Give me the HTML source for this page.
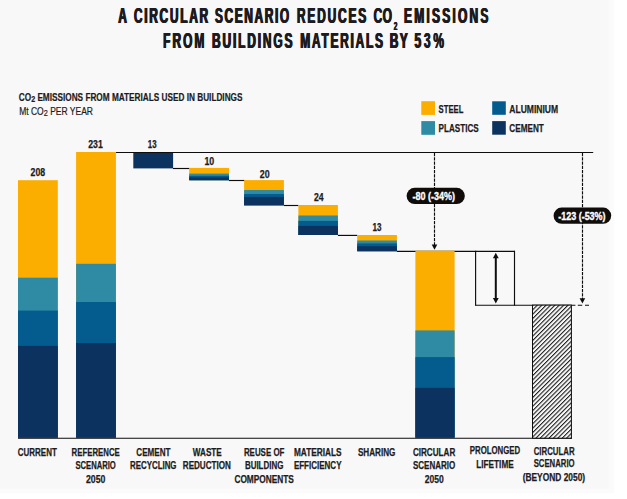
<!DOCTYPE html>
<html><head><meta charset="utf-8"><title>Circular scenario CO2 emissions</title>
<style>
html,body{margin:0;padding:0;background:#fff;}
body{width:627px;height:499px;overflow:hidden;position:relative;}
svg{display:block;position:absolute;left:0;top:0;}
text{font-family:"Liberation Sans",sans-serif;}
</style></head><body>
<svg width="627" height="499" viewBox="0 0 627 499">
<defs>
<pattern id="hatch" width="3.1" height="3.1" patternUnits="userSpaceOnUse" patternTransform="rotate(-45)">
<rect width="3.1" height="3.1" fill="#f8f8f8"/><rect width="3.1" height="1.08" fill="#1c1c1c"/>
</pattern>
<linearGradient id="fadeb" x1="0" y1="0" x2="0" y2="1"><stop offset="0" stop-color="#f8f8f8"/><stop offset="1" stop-color="#fff"/></linearGradient>
<linearGradient id="fader" x1="0" y1="0" x2="1" y2="0"><stop offset="0" stop-color="#f8f8f8"/><stop offset="1" stop-color="#fff"/></linearGradient>
</defs>
<rect x="0" y="0" width="627" height="499" fill="#fff"/>
<rect x="0" y="0" width="614.3" height="493.3" fill="#fbfbfb"/>
<rect x="0" y="0" width="608.5" height="488.5" fill="#f8f8f8"/>
<text transform="translate(117.85,23.00) scale(0.545,1)" font-size="22.0" font-weight="bold" fill="#1d1b20" >A</text>
<text transform="translate(118.30,23.00) scale(0.545,1)" font-size="22.0" font-weight="bold" fill="#1d1b20" >A</text>
<text transform="translate(118.75,23.00) scale(0.545,1)" font-size="22.0" font-weight="bold" fill="#1d1b20" >A</text>
<text transform="translate(133.45,23.00) scale(0.545,1)" font-size="22.0" font-weight="bold" fill="#1d1b20" textLength="136.33" lengthAdjust="spacing">CIRCULAR</text>
<text transform="translate(133.90,23.00) scale(0.545,1)" font-size="22.0" font-weight="bold" fill="#1d1b20" textLength="136.33" lengthAdjust="spacing">CIRCULAR</text>
<text transform="translate(134.35,23.00) scale(0.545,1)" font-size="22.0" font-weight="bold" fill="#1d1b20" textLength="136.33" lengthAdjust="spacing">CIRCULAR</text>
<text transform="translate(214.45,23.00) scale(0.545,1)" font-size="22.0" font-weight="bold" fill="#1d1b20" textLength="136.33" lengthAdjust="spacing">SCENARIO</text>
<text transform="translate(214.90,23.00) scale(0.545,1)" font-size="22.0" font-weight="bold" fill="#1d1b20" textLength="136.33" lengthAdjust="spacing">SCENARIO</text>
<text transform="translate(215.35,23.00) scale(0.545,1)" font-size="22.0" font-weight="bold" fill="#1d1b20" textLength="136.33" lengthAdjust="spacing">SCENARIO</text>
<text transform="translate(296.45,23.00) scale(0.545,1)" font-size="22.0" font-weight="bold" fill="#1d1b20" textLength="127.34" lengthAdjust="spacing">REDUCES</text>
<text transform="translate(296.90,23.00) scale(0.545,1)" font-size="22.0" font-weight="bold" fill="#1d1b20" textLength="127.34" lengthAdjust="spacing">REDUCES</text>
<text transform="translate(297.35,23.00) scale(0.545,1)" font-size="22.0" font-weight="bold" fill="#1d1b20" textLength="127.34" lengthAdjust="spacing">REDUCES</text>
<text transform="translate(373.15,23.00) scale(0.545,1)" font-size="22.0" font-weight="bold" fill="#1d1b20" textLength="33.76" lengthAdjust="spacing">CO</text>
<text transform="translate(373.60,23.00) scale(0.545,1)" font-size="22.0" font-weight="bold" fill="#1d1b20" textLength="33.76" lengthAdjust="spacing">CO</text>
<text transform="translate(374.05,23.00) scale(0.545,1)" font-size="22.0" font-weight="bold" fill="#1d1b20" textLength="33.76" lengthAdjust="spacing">CO</text>
<text transform="translate(403.55,23.00) scale(0.545,1)" font-size="22.0" font-weight="bold" fill="#1d1b20" textLength="154.86" lengthAdjust="spacing">EMISSIONS</text>
<text transform="translate(404.00,23.00) scale(0.545,1)" font-size="22.0" font-weight="bold" fill="#1d1b20" textLength="154.86" lengthAdjust="spacing">EMISSIONS</text>
<text transform="translate(404.45,23.00) scale(0.545,1)" font-size="22.0" font-weight="bold" fill="#1d1b20" textLength="154.86" lengthAdjust="spacing">EMISSIONS</text>
<text transform="translate(393.40,30.40) scale(0.62,1)" font-size="10.5" font-weight="bold" fill="#1d1b20" >2</text>
<text transform="translate(393.70,30.40) scale(0.62,1)" font-size="10.5" font-weight="bold" fill="#1d1b20" >2</text>
<text transform="translate(394.00,30.40) scale(0.62,1)" font-size="10.5" font-weight="bold" fill="#1d1b20" >2</text>
<text transform="translate(162.65,48.00) scale(0.545,1)" font-size="22.0" font-weight="bold" fill="#1d1b20" textLength="75.78" lengthAdjust="spacing">FROM</text>
<text transform="translate(163.10,48.00) scale(0.545,1)" font-size="22.0" font-weight="bold" fill="#1d1b20" textLength="75.78" lengthAdjust="spacing">FROM</text>
<text transform="translate(163.55,48.00) scale(0.545,1)" font-size="22.0" font-weight="bold" fill="#1d1b20" textLength="75.78" lengthAdjust="spacing">FROM</text>
<text transform="translate(211.55,48.00) scale(0.545,1)" font-size="22.0" font-weight="bold" fill="#1d1b20" textLength="147.71" lengthAdjust="spacing">BUILDINGS</text>
<text transform="translate(212.00,48.00) scale(0.545,1)" font-size="22.0" font-weight="bold" fill="#1d1b20" textLength="147.71" lengthAdjust="spacing">BUILDINGS</text>
<text transform="translate(212.45,48.00) scale(0.545,1)" font-size="22.0" font-weight="bold" fill="#1d1b20" textLength="147.71" lengthAdjust="spacing">BUILDINGS</text>
<text transform="translate(299.75,48.00) scale(0.545,1)" font-size="22.0" font-weight="bold" fill="#1d1b20" textLength="151.93" lengthAdjust="spacing">MATERIALS</text>
<text transform="translate(300.20,48.00) scale(0.545,1)" font-size="22.0" font-weight="bold" fill="#1d1b20" textLength="151.93" lengthAdjust="spacing">MATERIALS</text>
<text transform="translate(300.65,48.00) scale(0.545,1)" font-size="22.0" font-weight="bold" fill="#1d1b20" textLength="151.93" lengthAdjust="spacing">MATERIALS</text>
<text transform="translate(389.25,48.00) scale(0.545,1)" font-size="22.0" font-weight="bold" fill="#1d1b20" textLength="33.21" lengthAdjust="spacing">BY</text>
<text transform="translate(389.70,48.00) scale(0.545,1)" font-size="22.0" font-weight="bold" fill="#1d1b20" textLength="33.21" lengthAdjust="spacing">BY</text>
<text transform="translate(390.15,48.00) scale(0.545,1)" font-size="22.0" font-weight="bold" fill="#1d1b20" textLength="33.21" lengthAdjust="spacing">BY</text>
<text transform="translate(414.05,48.00) scale(0.545,1)" font-size="22.0" font-weight="bold" fill="#1d1b20" textLength="54.13" lengthAdjust="spacing">53%</text>
<text transform="translate(414.50,48.00) scale(0.545,1)" font-size="22.0" font-weight="bold" fill="#1d1b20" textLength="54.13" lengthAdjust="spacing">53%</text>
<text transform="translate(414.95,48.00) scale(0.545,1)" font-size="22.0" font-weight="bold" fill="#1d1b20" textLength="54.13" lengthAdjust="spacing">53%</text>
<text x="18.80" y="101.00" font-size="10.2" font-weight="bold" fill="#1d1b20" stroke="#1d1b20" stroke-width="0.2" textLength="223.70" lengthAdjust="spacingAndGlyphs" >CO<tspan font-size="8.8" dy="1.2">2</tspan><tspan dy="-1.2"> EMISSIONS FROM MATERIALS USED IN BUILDINGS</tspan></text>
<text x="19.20" y="115.00" font-size="10.2" font-weight="normal" fill="#1d1b20" stroke="#1d1b20" stroke-width="0.2" textLength="73.80" lengthAdjust="spacingAndGlyphs" >Mt CO<tspan font-size="8.8" dy="1.2">2</tspan><tspan dy="-1.2"> PER YEAR</tspan></text>
<rect x="421.30" y="101.20" width="13.70" height="13.70" fill="#fbad00"/>
<rect x="421.30" y="121.10" width="13.70" height="13.70" fill="#2f8ba4"/>
<rect x="492.20" y="101.30" width="13.60" height="13.50" fill="#045b8e"/>
<rect x="492.20" y="121.10" width="13.60" height="13.60" fill="#0c3360"/>
<text x="438.60" y="112.80" font-size="11.2" font-weight="bold" fill="#1d1b20" stroke="#1d1b20" stroke-width="0.25" textLength="24.80" lengthAdjust="spacingAndGlyphs" >STEEL</text>
<text x="438.60" y="132.00" font-size="11.2" font-weight="bold" fill="#1d1b20" stroke="#1d1b20" stroke-width="0.25" textLength="40.10" lengthAdjust="spacingAndGlyphs" >PLASTICS</text>
<text x="509.30" y="112.80" font-size="11.2" font-weight="bold" fill="#1d1b20" stroke="#1d1b20" stroke-width="0.25" textLength="48.80" lengthAdjust="spacingAndGlyphs" >ALUMINIUM</text>
<text x="509.30" y="132.00" font-size="11.2" font-weight="bold" fill="#1d1b20" stroke="#1d1b20" stroke-width="0.25" textLength="34.50" lengthAdjust="spacingAndGlyphs" >CEMENT</text>
<line x1="18.00" y1="438.20" x2="572.00" y2="438.20" stroke="#0d0d0d" stroke-width="1.1"/>
<line x1="115.90" y1="152.50" x2="593.20" y2="152.50" stroke="#0d0d0d" stroke-width="1.15"/>
<line x1="173.00" y1="168.50" x2="189.50" y2="168.50" stroke="#0d0d0d" stroke-width="1.15"/>
<line x1="229.00" y1="180.50" x2="244.50" y2="180.50" stroke="#0d0d0d" stroke-width="1.15"/>
<line x1="283.90" y1="205.50" x2="298.50" y2="205.50" stroke="#0d0d0d" stroke-width="1.15"/>
<line x1="337.90" y1="235.40" x2="357.30" y2="235.40" stroke="#0d0d0d" stroke-width="1.15"/>
<line x1="396.80" y1="251.30" x2="515.00" y2="251.30" stroke="#0d0d0d" stroke-width="1.15"/>
<line x1="475.60" y1="250.80" x2="475.60" y2="305.60" stroke="#0d0d0d" stroke-width="1.15"/>
<line x1="514.50" y1="250.80" x2="514.50" y2="305.60" stroke="#0d0d0d" stroke-width="1.15"/>
<line x1="475.10" y1="305.20" x2="575.40" y2="305.20" stroke="#0d0d0d" stroke-width="1.1"/>
<line x1="577.80" y1="305.20" x2="589.00" y2="305.20" stroke="#0d0d0d" stroke-width="1.1" stroke-dasharray="4.4 2.8 4 10"/>
<rect x="18.00" y="180.20" width="39.80" height="257.60" fill="#fbad00"/>
<rect x="18.00" y="277.70" width="39.80" height="160.10" fill="#2f8ba4"/>
<rect x="18.00" y="310.60" width="39.80" height="127.20" fill="#045b8e"/>
<rect x="18.00" y="345.90" width="39.80" height="91.90" fill="#0c3360"/>
<rect x="76.10" y="152.00" width="39.80" height="285.80" fill="#fbad00"/>
<rect x="76.10" y="263.80" width="39.80" height="174.00" fill="#2f8ba4"/>
<rect x="76.10" y="302.00" width="39.80" height="135.80" fill="#045b8e"/>
<rect x="76.10" y="343.00" width="39.80" height="94.80" fill="#0c3360"/>
<rect x="133.30" y="153.00" width="39.80" height="15.40" fill="#0c3360"/>
<rect x="189.20" y="167.90" width="39.80" height="12.30" fill="#fbad00"/>
<rect x="189.20" y="173.60" width="39.80" height="6.60" fill="#2f8ba4"/>
<rect x="189.20" y="175.80" width="39.80" height="4.40" fill="#045b8e"/>
<rect x="189.20" y="177.40" width="39.80" height="2.80" fill="#0c3360"/>
<rect x="244.10" y="180.10" width="39.80" height="25.20" fill="#fbad00"/>
<rect x="244.10" y="190.00" width="39.80" height="15.30" fill="#2f8ba4"/>
<rect x="244.10" y="194.00" width="39.80" height="11.30" fill="#045b8e"/>
<rect x="244.10" y="196.90" width="39.80" height="8.40" fill="#0c3360"/>
<rect x="298.40" y="205.00" width="39.50" height="30.00" fill="#fbad00"/>
<rect x="298.40" y="215.50" width="39.50" height="19.50" fill="#2f8ba4"/>
<rect x="298.40" y="220.90" width="39.50" height="14.10" fill="#045b8e"/>
<rect x="298.40" y="225.90" width="39.50" height="9.10" fill="#0c3360"/>
<rect x="357.20" y="235.00" width="39.70" height="16.20" fill="#fbad00"/>
<rect x="357.20" y="240.50" width="39.70" height="10.70" fill="#2f8ba4"/>
<rect x="357.20" y="243.40" width="39.70" height="7.80" fill="#045b8e"/>
<rect x="357.20" y="246.20" width="39.70" height="5.00" fill="#0c3360"/>
<rect x="415.40" y="250.70" width="39.20" height="187.10" fill="#fbad00"/>
<rect x="415.40" y="330.40" width="39.20" height="107.40" fill="#2f8ba4"/>
<rect x="415.40" y="357.10" width="39.20" height="80.70" fill="#045b8e"/>
<rect x="415.40" y="387.90" width="39.20" height="49.90" fill="#0c3360"/>
<line x1="495.80" y1="256.00" x2="495.80" y2="300.00" stroke="#0d0d0d" stroke-width="2.0"/>
<path d="M495.8 252.7 L498.7 258.3 L492.9 258.3 Z M495.8 303.6 L498.7 298 L492.9 298 Z" fill="#0d0d0d"/>
<rect x="532.5" y="305.1" width="38.9" height="133.10" fill="url(#hatch)" stroke="#0d0d0d" stroke-width="1"/>
<line x1="434.50" y1="153.00" x2="434.50" y2="245.00" stroke="#0d0d0d" stroke-width="1.15" stroke-dasharray="3.2 1.05"/>
<path d="M434.5 249.8 L431.7 244.4 L437.3 244.4 Z" fill="#0d0d0d"/>
<line x1="582.50" y1="153.00" x2="582.50" y2="299.00" stroke="#0d0d0d" stroke-width="1.15" stroke-dasharray="3.2 1.05"/>
<path d="M582.4 303.5 L579.6 298.2 L585.2 298.2 Z" fill="#0d0d0d"/>
<rect x="406.6" y="187.8" width="58.2" height="16.3" rx="8.15" fill="#0f0c0a"/>
<text x="412.60" y="200.10" font-size="11" font-weight="bold" fill="#fff" stroke="#fff" stroke-width="0.35" textLength="42.40" lengthAdjust="spacingAndGlyphs" >-80 (-34%)</text>
<rect x="553.6" y="207.6" width="57.6" height="16.2" rx="8.1" fill="#0f0c0a"/>
<text x="558.20" y="219.80" font-size="11" font-weight="bold" fill="#fff" stroke="#fff" stroke-width="0.35" textLength="47.40" lengthAdjust="spacingAndGlyphs" >-123 (-53%)</text>
<text x="30.60" y="176.20" font-size="10.4" font-weight="bold" fill="#1d1b20" stroke="#1d1b20" stroke-width="0.25" textLength="14.60" lengthAdjust="spacingAndGlyphs" >208</text>
<text x="88.20" y="148.00" font-size="10.4" font-weight="bold" fill="#1d1b20" stroke="#1d1b20" stroke-width="0.25" textLength="14.60" lengthAdjust="spacingAndGlyphs" >231</text>
<text x="147.80" y="148.00" font-size="10.4" font-weight="bold" fill="#1d1b20" stroke="#1d1b20" stroke-width="0.25" textLength="8.80" lengthAdjust="spacingAndGlyphs" >13</text>
<text x="204.40" y="165.20" font-size="10.4" font-weight="bold" fill="#1d1b20" stroke="#1d1b20" stroke-width="0.25" textLength="9.80" lengthAdjust="spacingAndGlyphs" >10</text>
<text x="259.80" y="178.00" font-size="10.4" font-weight="bold" fill="#1d1b20" stroke="#1d1b20" stroke-width="0.25" textLength="9.80" lengthAdjust="spacingAndGlyphs" >20</text>
<text x="314.00" y="201.00" font-size="10.4" font-weight="bold" fill="#1d1b20" stroke="#1d1b20" stroke-width="0.25" textLength="9.60" lengthAdjust="spacingAndGlyphs" >24</text>
<text x="372.40" y="231.10" font-size="10.4" font-weight="bold" fill="#1d1b20" stroke="#1d1b20" stroke-width="0.25" textLength="9.00" lengthAdjust="spacingAndGlyphs" >13</text>
<text x="17.80" y="456.40" font-size="10.6" font-weight="bold" fill="#1d1b20" stroke="#1d1b20" stroke-width="0.25" textLength="39.00" lengthAdjust="spacingAndGlyphs" >CURRENT</text>
<text x="71.60" y="456.40" font-size="10.6" font-weight="bold" fill="#1d1b20" stroke="#1d1b20" stroke-width="0.25" textLength="48.20" lengthAdjust="spacingAndGlyphs" >REFERENCE</text>
<text x="75.40" y="468.70" font-size="10.6" font-weight="bold" fill="#1d1b20" stroke="#1d1b20" stroke-width="0.25" textLength="40.40" lengthAdjust="spacingAndGlyphs" >SCENARIO</text>
<text x="86.00" y="482.80" font-size="10.6" font-weight="bold" fill="#1d1b20" stroke="#1d1b20" stroke-width="0.25" textLength="19.40" lengthAdjust="spacingAndGlyphs" >2050</text>
<text x="136.30" y="456.40" font-size="10.6" font-weight="bold" fill="#1d1b20" stroke="#1d1b20" stroke-width="0.25" textLength="34.10" lengthAdjust="spacingAndGlyphs" >CEMENT</text>
<text x="130.00" y="468.70" font-size="10.6" font-weight="bold" fill="#1d1b20" stroke="#1d1b20" stroke-width="0.25" textLength="46.50" lengthAdjust="spacingAndGlyphs" >RECYCLING</text>
<text x="192.80" y="456.40" font-size="10.6" font-weight="bold" fill="#1d1b20" stroke="#1d1b20" stroke-width="0.25" textLength="29.00" lengthAdjust="spacingAndGlyphs" >WASTE</text>
<text x="182.80" y="468.70" font-size="10.6" font-weight="bold" fill="#1d1b20" stroke="#1d1b20" stroke-width="0.25" textLength="48.00" lengthAdjust="spacingAndGlyphs" >REDUCTION</text>
<text x="243.90" y="456.40" font-size="10.6" font-weight="bold" fill="#1d1b20" stroke="#1d1b20" stroke-width="0.25" textLength="40.50" lengthAdjust="spacingAndGlyphs" >REUSE OF</text>
<text x="244.90" y="468.70" font-size="10.6" font-weight="bold" fill="#1d1b20" stroke="#1d1b20" stroke-width="0.25" textLength="38.50" lengthAdjust="spacingAndGlyphs" >BUILDING</text>
<text x="234.40" y="482.80" font-size="10.6" font-weight="bold" fill="#1d1b20" stroke="#1d1b20" stroke-width="0.25" textLength="59.40" lengthAdjust="spacingAndGlyphs" >COMPONENTS</text>
<text x="293.90" y="456.40" font-size="10.6" font-weight="bold" fill="#1d1b20" stroke="#1d1b20" stroke-width="0.25" textLength="47.60" lengthAdjust="spacingAndGlyphs" >MATERIALS</text>
<text x="293.90" y="468.70" font-size="10.6" font-weight="bold" fill="#1d1b20" stroke="#1d1b20" stroke-width="0.25" textLength="47.60" lengthAdjust="spacingAndGlyphs" >EFFICIENCY</text>
<text x="357.90" y="456.40" font-size="10.6" font-weight="bold" fill="#1d1b20" stroke="#1d1b20" stroke-width="0.25" textLength="37.50" lengthAdjust="spacingAndGlyphs" >SHARING</text>
<text x="412.90" y="456.40" font-size="10.6" font-weight="bold" fill="#1d1b20" stroke="#1d1b20" stroke-width="0.25" textLength="42.40" lengthAdjust="spacingAndGlyphs" >CIRCULAR</text>
<text x="412.90" y="468.70" font-size="10.6" font-weight="bold" fill="#1d1b20" stroke="#1d1b20" stroke-width="0.25" textLength="42.40" lengthAdjust="spacingAndGlyphs" >SCENARIO</text>
<text x="424.80" y="482.80" font-size="10.6" font-weight="bold" fill="#1d1b20" stroke="#1d1b20" stroke-width="0.25" textLength="19.00" lengthAdjust="spacingAndGlyphs" >2050</text>
<text x="469.80" y="454.10" font-size="10.6" font-weight="bold" fill="#1d1b20" stroke="#1d1b20" stroke-width="0.25" textLength="50.40" lengthAdjust="spacingAndGlyphs" >PROLONGED</text>
<text x="476.30" y="467.60" font-size="10.6" font-weight="bold" fill="#1d1b20" stroke="#1d1b20" stroke-width="0.25" textLength="37.40" lengthAdjust="spacingAndGlyphs" >LIFETIME</text>
<text x="533.70" y="454.60" font-size="10.6" font-weight="bold" fill="#1d1b20" stroke="#1d1b20" stroke-width="0.25" textLength="40.90" lengthAdjust="spacingAndGlyphs" >CIRCULAR</text>
<text x="533.70" y="467.10" font-size="10.6" font-weight="bold" fill="#1d1b20" stroke="#1d1b20" stroke-width="0.25" textLength="40.90" lengthAdjust="spacingAndGlyphs" >SCENARIO</text>
<text x="522.70" y="480.90" font-size="10.6" font-weight="bold" fill="#1d1b20" stroke="#1d1b20" stroke-width="0.25" textLength="62.40" lengthAdjust="spacingAndGlyphs" >(BEYOND 2050)</text>
</svg>
</body></html>
